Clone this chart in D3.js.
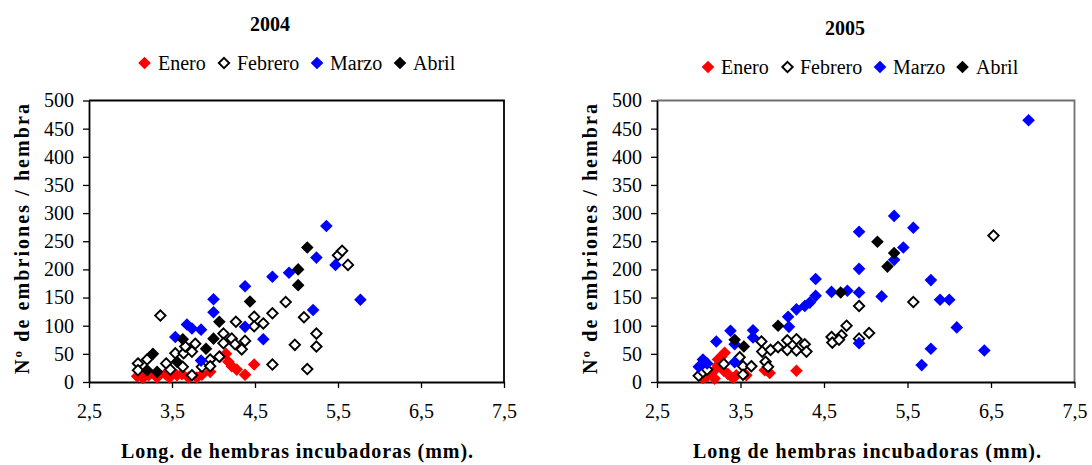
<!DOCTYPE html>
<html>
<head>
<meta charset="utf-8">
<script src="https://cdn.jsdelivr.net/npm/d3@7"></script>
<style>
  html, body { margin: 0; padding: 0; background: #fff; }
  svg { display: block; font-family: "Liberation Serif", "Times New Roman", serif; }
</style>
</head>
<body>
<svg id="chart" width="1092" height="465"></svg>
<script>
// ---------- data ----------
const months = ["Enero", "Febrero", "Marzo", "Abril"];
const years = ["2004", "2005"];
const xTicks = [2.5, 3.5, 4.5, 5.5, 6.5, 7.5];
const yTicks = [0, 50, 100, 150, 200, 250, 300, 350, 400, 450, 500];
const xTitles = ["Long. de hembras incubadoras (mm).", "Long de hembras incubadoras (mm)."];
const yTitle = "Nº de embriones / hembra";

// 2004
const enero2004 = [[3.08,10],[3.15,7],[3.22,12],[3.32,8],[3.42,14],[3.47,8],[3.56,12],[3.62,14],[3.7,8],[3.8,8],[3.86,13],[3.96,18],[4.08,45],[4.15,50],[4.18,36],[4.22,28],[4.28,22],[4.38,13],[4.49,31]];
const febrero2004 = [[3.09,33],[3.09,21],[3.2,40],[3.36,118],[3.43,33],[3.48,22],[3.54,51],[3.64,51],[3.66,63],[3.74,54],[3.74,12],[3.63,27],[3.78,68],[3.86,27],[3.96,40],[3.96,28],[4.07,45],[4.12,86],[4.12,69],[4.22,77],[4.26,67],[4.27,107],[4.34,58],[4.38,73],[4.49,116],[4.49,99],[4.6,104],[4.71,122],[4.71,31],[4.87,142],[4.98,66],[5.09,115],[5.13,23],[5.24,86],[5.24,63],[5.5,225],[5.55,233],[5.62,208]];
const marzo2004 = [[3.54,80],[3.68,102],[3.74,95],[3.85,93],[3.85,38],[4.0,147],[4.0,124],[4.38,170],[4.38,98],[4.6,76],[4.71,187],[4.91,194],[5.2,128],[5.24,221],[5.36,277],[5.47,208],[5.77,146]];
const abril2004 = [[3.2,21],[3.27,50],[3.32,18],[3.56,36],[3.63,76],[3.91,59],[4.0,77],[4.07,107],[4.44,143],[5.02,200],[5.02,172],[5.13,239]];

// 2005
const enero2005 = [[3.05,7],[3.1,10],[3.17,18],[3.19,6],[3.23,30],[3.23,40],[3.27,45],[3.31,52],[3.3,20],[3.35,14],[3.41,7],[3.45,12],[3.57,12],[3.79,21],[3.85,16],[4.17,20]];
const febrero2005 = [[3.0,11],[3.05,18],[3.1,22],[3.3,32],[3.49,44],[3.53,28],[3.53,13],[3.63,28],[3.75,72],[3.76,54],[3.8,36],[3.83,27],[3.86,57],[3.95,62],[4.06,74],[4.06,57],[4.17,76],[4.17,56],[4.27,67],[4.29,54],[4.59,80],[4.6,70],[4.71,83],[4.68,75],[4.77,100],[4.92,135],[4.92,77],[5.04,87],[5.57,142],[6.53,260]];
const marzo2005 = [[3.0,27],[3.05,40],[3.1,33],[3.21,72],[3.38,91],[3.43,67],[3.43,35],[3.65,92],[3.65,79],[4.07,116],[4.08,98],[4.17,129],[4.27,135],[4.33,141],[4.4,153],[4.4,183],[4.59,160],[4.78,162],[4.92,267],[4.92,201],[4.92,159],[4.92,69],[5.19,152],[5.34,295],[5.34,217],[5.45,239],[5.57,274],[5.67,30],[5.78,181],[5.78,59],[5.89,146],[6.0,146],[6.09,97],[6.42,56],[6.95,465]];
const abril2005 = [[3.43,75],[3.54,63],[3.95,100],[4.7,159],[5.14,249],[5.34,229],[5.26,205]];

// ---------- styles ----------
const seriesStyle = [
  { fill: "#ff0000", stroke: "none", r: 6.3, sw: 0 },
  { fill: "#ffffff", stroke: "#000000", r: 5.2, sw: 1.9 },
  { fill: "#0000ff", stroke: "none", r: 6.3, sw: 0 },
  { fill: "#000000", stroke: "none", r: 6.3, sw: 0 }
];

const diamond = {
  draw(ctx, size) {
    const r = Math.sqrt(size / 2);
    ctx.moveTo(0, -r); ctx.lineTo(r, 0); ctx.lineTo(0, r); ctx.lineTo(-r, 0); ctx.closePath();
  }
};
const symFor = r => d3.symbol().type(diamond).size(2 * r * r)();

const panels = [
  { year: years[0], series: [enero2004, febrero2004, marzo2004, abril2004], xTitle: xTitles[0],
    plot: { x0: 89, x1: 504, y0: 100.5, y1: 382 },
    title: { x: 270, y: 31 },
    legend: { y: 63, marks: [144.5, 224, 317, 400], texts: [158, 237, 330, 413] },
    xTitlePos: { x: 297, y: 458, len: 352 },
    yTitlePos: { x: 29, y: 239, len: 270 },
    frameColor: "#000" },
  { year: years[1], series: [enero2005, febrero2005, marzo2005, abril2005], xTitle: xTitles[1],
    plot: { x0: 657, x1: 1074.5, y0: 100.5, y1: 382 },
    title: { x: 845, y: 35 },
    legend: { y: 67, marks: [708, 787.5, 880, 962.5], texts: [721, 800, 893, 976] },
    xTitlePos: { x: 867, y: 458, len: 348 },
    yTitlePos: { x: 597, y: 239, len: 270 },
    frameColor: "#6f6f6f" }
];

const svg = d3.select("#chart");
const fmt = d => d.toFixed(1).replace(".", ",");

panels.forEach(p => {
  const g = svg.append("g");
  const x = d3.scaleLinear().domain([2.5, 7.5]).range([p.plot.x0, p.plot.x1]);
  const y = d3.scaleLinear().domain([0, 500]).range([p.plot.y1, p.plot.y0]);

  // frame (top & right)
  g.append("path")
    .attr("d", `M${p.plot.x0},${p.plot.y0}H${p.plot.x1}V${p.plot.y1}`)
    .attr("fill", "none").attr("stroke", p.frameColor).attr("stroke-width", 1.8);

  // axes
  const xa = g.append("g").attr("transform", `translate(0,${p.plot.y1})`)
    .call(d3.axisBottom(x).tickValues(xTicks).tickFormat(fmt).tickSize(6).tickPadding(16).tickSizeOuter(0));
  const ya = g.append("g").attr("transform", `translate(${p.plot.x0},0)`)
    .call(d3.axisLeft(y).tickValues(yTicks).tickSize(6).tickPadding(9).tickSizeOuter(0));
  [xa, ya].forEach(a => {
    a.select(".domain").attr("stroke", "#000").attr("stroke-width", 1.8);
    a.selectAll(".tick line").attr("stroke", "#000").attr("stroke-width", 1.3);
    a.selectAll(".tick text").attr("fill", "#000").style("font-size", "20px")
      .style("font-family", "'Liberation Serif', serif");
  });

  // points
  p.series.forEach((data, i) => {
    const st = seriesStyle[i];
    g.append("g").selectAll("path").data(data).join("path")
      .attr("d", symFor(st.r))
      .attr("transform", d => `translate(${x(d[0])},${y(d[1])})`)
      .attr("fill", st.fill).attr("stroke", st.stroke).attr("stroke-width", st.sw);
  });

  // title
  g.append("text").attr("x", p.title.x).attr("y", p.title.y).attr("text-anchor", "middle")
    .style("font-size", "20px").style("font-weight", "bold").text(p.year);

  // legend
  months.forEach((m, i) => {
    const st = seriesStyle[i];
    g.append("path").attr("d", symFor(st.r))
      .attr("transform", `translate(${p.legend.marks[i]},${p.legend.y})`)
      .attr("fill", st.fill).attr("stroke", st.stroke).attr("stroke-width", st.sw);
    g.append("text").attr("x", p.legend.texts[i]).attr("y", p.legend.y + 7)
      .style("font-size", "20px").text(m);
  });

  // axis titles
  g.append("text").attr("x", p.xTitlePos.x).attr("y", p.xTitlePos.y).attr("text-anchor", "middle")
    .attr("textLength", p.xTitlePos.len).attr("lengthAdjust", "spacing")
    .style("font-size", "20px").style("font-weight", "bold").text(p.xTitle);
  g.append("text")
    .attr("transform", `translate(${p.yTitlePos.x},${p.yTitlePos.y}) rotate(-90)`)
    .attr("text-anchor", "middle")
    .attr("textLength", p.yTitlePos.len).attr("lengthAdjust", "spacing")
    .style("font-size", "20px").style("font-weight", "bold").text(yTitle);
});
</script>
</body>
</html>
